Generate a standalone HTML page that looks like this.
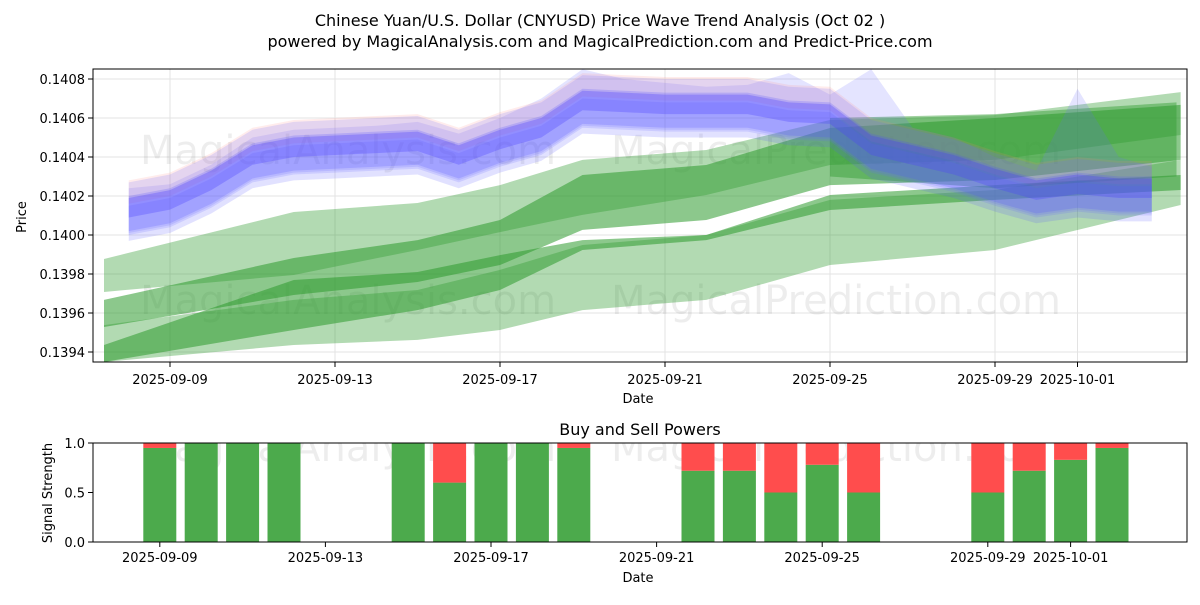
<!DOCTYPE html>
<html><head><meta charset="utf-8"><style>
body{margin:0;background:#fff;font-family:"Liberation Sans","DejaVu Sans",sans-serif}
svg text{font-family:"DejaVu Sans","Liberation Sans",sans-serif}
</style></head><body>
<svg id="c" width="1200" height="600" xmlns="http://www.w3.org/2000/svg"></svg>
<script>
// ---- data ----
const gDays=[0.4,5,8,10,12,15,18,22,26.5];
const bandAHi=[0.139877,0.140118,0.140164,0.140256,0.140385,0.140436,0.14059,0.140615,0.140733];
const bandALo=[0.139708,0.139795,0.139923,0.140015,0.140103,0.140205,0.140359,0.140385,0.140513];
const bandBHi=[0.139667,0.139882,0.139974,0.140077,0.140308,0.140359,0.140549,0.1406,0.140667];
const bandBLo=[0.139528,0.139692,0.139759,0.139846,0.140026,0.140077,0.140256,0.140282,0.140385];
const bandCHi=[0.139538,0.139667,0.139718,0.139821,0.139949,0.14,0.14018,0.140231,0.140385];
const bandCLo=[0.139349,0.139436,0.139462,0.139513,0.139615,0.139667,0.139846,0.139923,0.140154];
const bandDHi=[0.139436,0.139769,0.13981,0.139897,0.139974,0.14,0.140205,0.140256,0.140308];
const bandDLo=[0.139349,0.139513,0.139615,0.139718,0.139923,0.139974,0.140128,0.14018,0.140231];
const bDays=[1,2,3,4,5,6,7,8,9,10,11,12,13,14,15,16,17,18,19,20,21,22,23,24,25,25.8];
const blueCenter=[0.14014,0.14018,0.14028,0.14041,0.14045,0.14046,0.14047,0.14048,0.14041,0.14049,0.14055,0.14069,0.14068,0.14067,0.14067,0.14067,0.14063,0.14062,0.14046,0.14041,0.14036,0.14029,0.14023,0.14026,0.14024,0.14024];
const spikeHi=[0.14024,0.14026,0.14036,0.14050,0.14054,0.14055,0.14056,0.14058,0.14052,0.14060,0.14070,0.14085,0.14080,0.14078,0.14076,0.14077,0.14083,0.14072,0.14085,0.14055,0.14050,0.14040,0.14033,0.14075,0.14040,0.14035];
const yTicks=[0.1394,0.1396,0.1398,0.14,0.1402,0.1404,0.1406,0.1408];
const xTickDays=[2,6,10,14,18,22,24];
const xTickLabels=["2025-09-09","2025-09-13","2025-09-17","2025-09-21","2025-09-25","2025-09-29","2025-10-01"];
const barDays=[2,3,4,5,8,9,10,11,12,15,16,17,18,19,22,23,24,25];
const buyVals=[0.95,1,1,1,1,0.6,1,1,0.95,0.72,0.72,0.5,0.78,0.5,0.5,0.72,0.83,0.95];
const sigTicks=[0,0.5,1];
// ---- axes ----
const S=document.getElementById('c');const NS='http://www.w3.org/2000/svg';
function el(t,a,p){const e=document.createElementNS(NS,t);for(const k in a)e.setAttribute(k,a[k]);(p||S).appendChild(e);return e;}
const X1=d=>87.5+d*41.25;
const Y1=v=>352-(v-0.1394)/0.0002*39;
const X2=d=>77+d*41.4;
const Y2=v=>542-v*99;
let t=el('text',{x:600,y:26,'text-anchor':'middle','font-size':16});t.textContent='Chinese Yuan/U.S. Dollar (CNYUSD) Price Wave Trend Analysis (Oct 02 )';

t=el('text',{x:600,y:47,'text-anchor':'middle','font-size':16});t.textContent='powered by MagicalAnalysis.com and MagicalPrediction.com and Predict-Price.com';

const clip=el('clipPath',{id:'cp1'});el('rect',{x:93,y:69,width:1094,height:293},clip);
const clip2=el('clipPath',{id:'cp2'});el('rect',{x:93,y:443,width:1094,height:99},clip2);
const gTop=el('g',{'clip-path':'url(#cp1)'});

yTicks.forEach(v=>{el('line',{x1:93,x2:1187,y1:Y1(v),y2:Y1(v),stroke:'#e3e3e3'},gTop);
 el('line',{x1:88,x2:93,y1:Y1(v),y2:Y1(v),stroke:'#000'});
 const tx=el('text',{x:85,y:Y1(v)+5,'text-anchor':'end','font-size':13});tx.textContent=v.toFixed(4);
 });
xTickDays.forEach((d,i)=>{el('line',{x1:X1(d),x2:X1(d),y1:69,y2:362,stroke:'#e3e3e3'},gTop);
 el('line',{x1:X1(d),x2:X1(d),y1:362,y2:367,stroke:'#000'});
 const tx=el('text',{x:X1(d),y:384,'text-anchor':'middle','font-size':13});tx.textContent=xTickLabels[i];
 });
[[348,150],[836,150],[348,300],[836,300]].forEach((p,i)=>{const w=el('text',{x:p[0],y:p[1]+14,'text-anchor':'middle','font-size':40,fill:'#000','fill-opacity':0.07},gTop);w.textContent=i%2?'MagicalPrediction.com':'MagicalAnalysis.com';
 });
function band(days,lo,hi,fill,op,g,name){let p=days.map((d,i)=>X1(d)+','+Y1(hi[i]));for(let i=days.length-1;i>=0;i--)p.push(X1(days[i])+','+Y1(lo[i]));
 const e=el('polygon',{points:p.join(' '),fill:fill,'fill-opacity':op},g);}
band(gDays,bandALo,bandAHi,'#2e9b2e',0.37,gTop,'green-band-a');
band(gDays,bandBLo,bandBHi,'#2e9b2e',0.55,gTop,'green-band-b');
band(gDays,bandCLo,bandCHi,'#2e9b2e',0.37,gTop,'green-band-c');
band(gDays,bandDLo,bandDHi,'#2e9b2e',0.55,gTop,'green-band-d');
band([18,22,26.4],[0.14030,0.14024,0.14030],[0.14060,0.14062,0.14068],'#2e9b2e',0.45,gTop,'green-band-e');
band(bDays,blueCenter.map(v=>v-0.00014),spikeHi,'#6a6aff',0.18,gTop,'blue-band-spike');
[[0.00008,0.00006,'#ff8080',0.15],[0,0.00013,'#6a6aff',0.18],[-0.00003,0.00009,'#5050ff',0.22],[0,0.00005,'#4a3aff',0.3],[-0.00008,0.00009,'#5a5aff',0.18]].forEach((c,i)=>{
 band(bDays,blueCenter.map(v=>v+c[0]-c[1]),blueCenter.map(v=>v+c[0]+c[1]),c[2],c[3],gTop,'blue-band-'+i);});
el('rect',{x:93,y:69,width:1094,height:293,fill:'none',stroke:'#000'});
t=el('text',{x:638,y:403,'text-anchor':'middle','font-size':13});t.textContent='Date';
t=el('text',{x:26,y:217,'text-anchor':'middle','font-size':13,transform:'rotate(-90 26 217)'});t.textContent='Price';
t=el('text',{x:640,y:435,'text-anchor':'middle','font-size':16});t.textContent='Buy and Sell Powers';
const gB=el('g',{'clip-path':'url(#cp2)'});
[[348,447],[836,447]].forEach((p,i)=>{const w=el('text',{x:p[0],y:p[1]+14,'text-anchor':'middle','font-size':40,fill:'#000','fill-opacity':0.07},gB);w.textContent=i?'MagicalPrediction.com':'MagicalAnalysis.com';
 });
barDays.forEach((d,i)=>{const b=el('rect',{x:X2(d)-16.5,y:Y2(buyVals[i]),width:33,height:Y2(0)-Y2(buyVals[i]),fill:'#4caa4c'},gB);
 
 const r=el('rect',{x:X2(d)-16.5,y:Y2(1),width:33,height:Y2(buyVals[i])-Y2(1),fill:'#ff4d4d'},gB);
 });
sigTicks.forEach(v=>{el('line',{x1:88,x2:93,y1:Y2(v),y2:Y2(v),stroke:'#000'});const tx=el('text',{x:85,y:Y2(v)+5,'text-anchor':'end','font-size':13});tx.textContent=v.toFixed(1);
 });
xTickDays.forEach((d,i)=>{el('line',{x1:X2(d),x2:X2(d),y1:542,y2:547,stroke:'#000'});const tx=el('text',{x:X2(d),y:562,'text-anchor':'middle','font-size':13});tx.textContent=xTickLabels[i];
 });
el('rect',{x:93,y:443,width:1094,height:99,fill:'none',stroke:'#000'});
t=el('text',{x:638,y:582,'text-anchor':'middle','font-size':13});t.textContent='Date';
t=el('text',{x:52,y:493,'text-anchor':'middle','font-size':13,transform:'rotate(-90 52 493)'});t.textContent='Signal Strength';
</script>
</body></html>
